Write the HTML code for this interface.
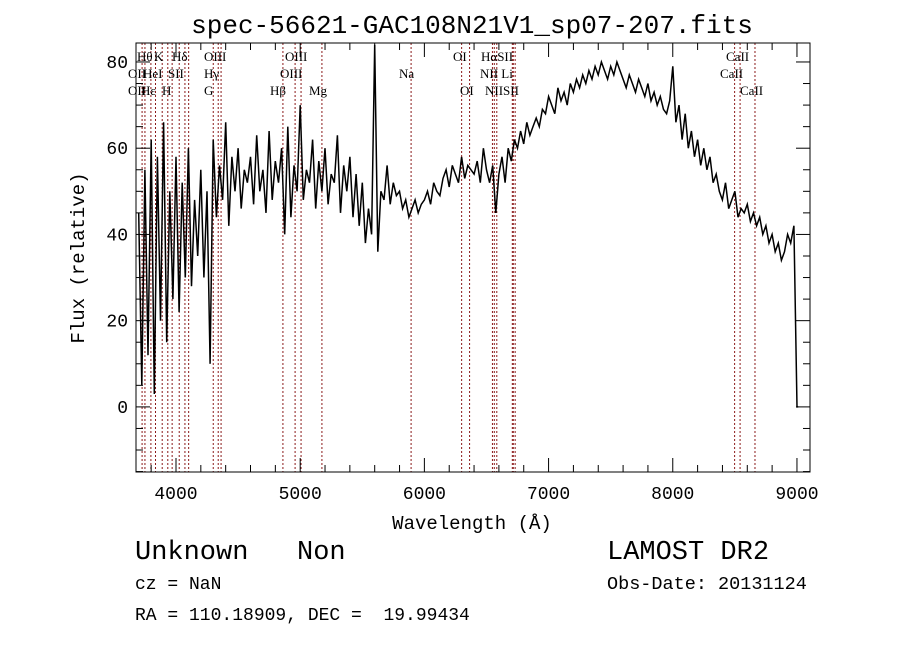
<!DOCTYPE html>
<html><head><meta charset="utf-8"><style>
body{margin:0;background:#fff;}
svg text{font-family:"Liberation Mono",monospace;fill:#000;white-space:pre;}
svg .lab text{font-family:"Liberation Serif",serif;font-size:13px;}
</style></head><body>
<svg id="chart" width="900" height="649" viewBox="0 0 900 649" xmlns="http://www.w3.org/2000/svg" xml:space="preserve">
<rect width="900" height="649" fill="#fff"/>
<text x="472" y="33" text-anchor="middle" font-size="26">spec-56621-GAC108N21V1_sp07-207.fits</text>
<g id="lines"></g>
<g id="labels" class="lab">
<text x="137" y="61">Hθ</text><text x="154" y="61">K</text><text x="172" y="61">Hδ</text><text x="204" y="61">OIII</text><text x="285" y="61">OIII</text><text x="453" y="61">OI</text><text x="481" y="61">HαSII</text><text x="726" y="61">CaII</text>
<text x="128" y="78">OII</text><text x="143" y="78">HeI</text><text x="168" y="78">SII</text><text x="204" y="78">Hγ</text><text x="280" y="78">OIII</text><text x="399" y="78">Na</text><text x="480" y="78">NII Li</text><text x="720" y="78">CaII</text>
<text x="128" y="95">OII</text><text x="141" y="95">Hε</text><text x="162" y="95">H</text><text x="204" y="95">G</text><text x="270" y="95">Hβ</text><text x="309" y="95">Mg</text><text x="460" y="95">OI</text><text x="485" y="95">NIISII</text><text x="740" y="95">CaII</text>
</g>
<path id="spec" fill="none" stroke="#000" stroke-width="1.5"/>
<rect x="136" y="43" width="674" height="429" fill="none" stroke="#000" stroke-width="1"/>
<g id="ticks" stroke="#000"></g>
<g id="tlabels" font-size="18"></g>
<text x="472" y="529" text-anchor="middle" font-size="19">Wavelength (Å)</text>
<text transform="translate(84,258) rotate(-90)" text-anchor="middle" font-size="19">Flux (relative)</text>
<text x="135" y="559" font-size="27">Unknown   Non</text>
<text x="135" y="589" font-size="18">cz = NaN</text>
<text x="135" y="620" font-size="18">RA = 110.18909, DEC =  19.99434</text>
<text x="607" y="559" font-size="27">LAMOST DR2</text>
<text x="607" y="589" font-size="18.5">Obs-Date: 20131124</text>
</svg>
<script>
const fluxValues=[45,5,55,12,62,3,58,20,66,15,50,25,
58,22,52,30,60,28,48,35,55,30,50,10,
62,44,56,48,66,42,58,50,60,46,55,52,
58,47,63,50,55,45,64,48,57,52,60,40,
65,44,56,50,70,48,55,52,62,46,57,50,
60,47,54,52,63,45,56,50,58,44,54,42,
52,38,46,40,84,36,50,48,56,47,52,49,
50,46,48,44,46,48,45,47,
48,50,47,52,50,49,53,55,51,56,54,52,
58,53,56,55,54,57,52,60,55,52,56,45,
54,58,52,60,57,62,60,64,61,66,63,65,
67,65,69,68,72,70,68,74,71,73,70,75,
73,76,74,77,75,78,76,79,77,80,78,76,
79,77,80,78,76,74,77,75,73,76,74,72,
75,71,73,70,72,69,68,71,
79,66,70,62,68,60,64,58,62,56,60,55,
58,52,54,50,48,52,46,48,
50,44,46,45,47,43,45,42,44,40,42,38,
40,36,38,34,36,40,38,42,
0];
const startWl=3700, stepWl=25;
const lineWavelengths=[3727,3750,3798,3835,3889,3934,3969,4026,4072,4102,4300,4340,4363,4861,4959,5007,5175,5893,6300,6364,6548,6563,6583,6708,6716,6731,8498,8542,8662];
const xTicks=[4000,5000,6000,7000,8000,9000];
const yTicks=[0,20,40,60,80];
const X0=136,X1=810,Y0=472,Y1=43,WMIN=3678,WMAX=9105,FMIN=-15.1,FMAX=84.4;
const sx=w=>X0+(w-WMIN)/(WMAX-WMIN)*(X1-X0);
const sy=f=>Y0-(f-FMIN)/(FMAX-FMIN)*(Y0-Y1);
const NS="http://www.w3.org/2000/svg";
let d="";
fluxValues.forEach((f,i)=>{const w=startWl+i*stepWl;d+=(i?"L":"M")+sx(w).toFixed(1)+","+sy(f).toFixed(1);});
d+="L"+sx(9010).toFixed(1)+","+sy(0).toFixed(1);
document.getElementById('spec').setAttribute('d',d);
const lg=document.getElementById('lines');
lineWavelengths.forEach(w=>{const l=document.createElementNS(NS,'line');


l.setAttribute('x1',sx(w));l.setAttribute('x2',sx(w));l.setAttribute('y1',Y1);l.setAttribute('y2',Y0);
l.setAttribute('stroke','#8b1a1a');l.setAttribute('stroke-dasharray','2,2');l.setAttribute('stroke-width','1');lg.appendChild(l);});
const tg=document.getElementById('ticks'),tl=document.getElementById('tlabels');
function tk(x1,y1,x2,y2){const l=document.createElementNS(NS,'line');


l.setAttribute('x1',x1);l.setAttribute('y1',y1);l.setAttribute('x2',x2);l.setAttribute('y2',y2);tg.appendChild(l);}
for(let w=3800;w<=9100;w+=200){const x=sx(w),maj=w%1000===0,L=maj?14:7;tk(x,Y0,x,Y0-L);tk(x,Y1,x,Y1+L);}
for(let f=-15;f<=84;f+=5){const y=sy(f),maj=f%20===0,L=maj?14:7;tk(X0,y,X0+L,y);tk(X1,y,X1-L,y);}
xTicks.forEach(w=>{const t=document.createElementNS(NS,'text');


t.setAttribute('x',sx(w));t.setAttribute('y',Y0+27);t.setAttribute('text-anchor','middle');t.textContent=w;tl.appendChild(t);});
yTicks.forEach(f=>{const t=document.createElementNS(NS,'text');


t.setAttribute('x',X0-8);t.setAttribute('y',sy(f)+6);t.setAttribute('text-anchor','end');t.textContent=f;tl.appendChild(t);});
</script>
</body></html>
